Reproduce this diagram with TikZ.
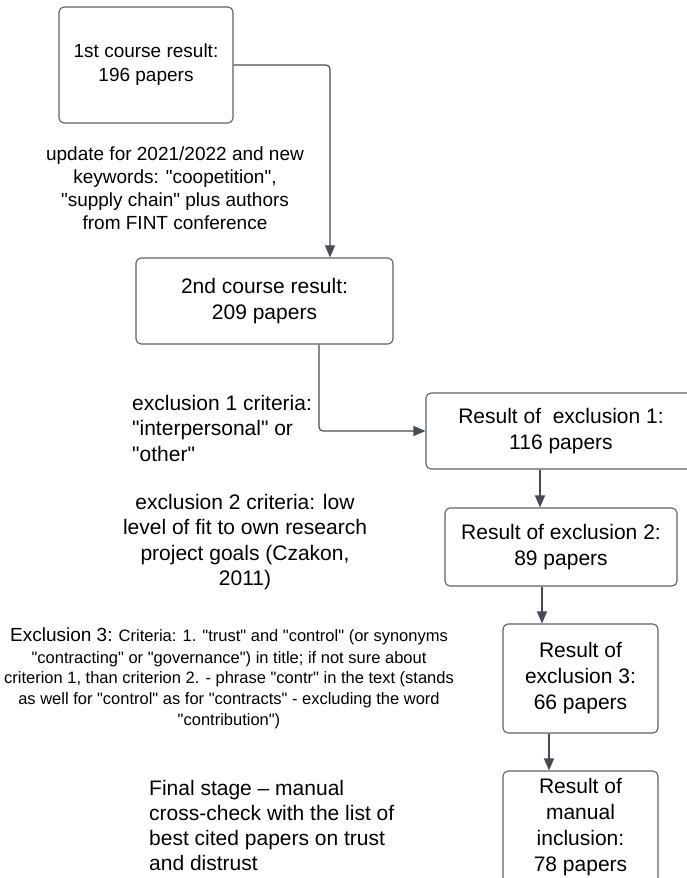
\documentclass[tikz,border=0pt]{standalone}
\usepackage{fontspec}
\setmainfont{Liberation Sans}[Ligatures=TeXReset]
\usetikzlibrary{arrows.meta}
\definecolor{boxgray}{HTML}{5B6068}
\definecolor{flowgray}{HTML}{454B54}

\begin{document}
\begin{tikzpicture}[x=1pt,y=-1pt,
    box/.style={draw=boxgray, line width=1.1pt, rounded corners=5pt, align=center, inner sep=0pt, font=\fontsize{21}{26}\selectfont},
    flow/.style={draw=flowgray, line width=1.2pt, rounded corners=4pt, -{Triangle[length=12pt,width=10pt]}},
    note/.style={inner sep=0pt, font=\fontsize{21}{25.5}\selectfont}]
    \useasboundingbox (0,0) rectangle (686,878);

    % result boxes
    \node[box, minimum width=174pt, minimum height=116pt, font=\fontsize{19}{24}\selectfont] (course1) at (146,65) {1st course result:\\196 papers};
    \node[box, minimum width=257pt, minimum height=86pt] (course2) at (264.5,301) {2nd course result:\\209 papers};
    \node[box, minimum width=270pt, minimum height=76pt] (excl1) at (561,431) {Result of\ \ exclusion 1:\\116 papers};
    \node[box, minimum width=232pt, minimum height=78pt] (excl2) at (561,547) {Result of exclusion 2:\\89 papers};
    \node[box, minimum width=155pt, minimum height=109pt] (excl3) at (580.5,678.5) {Result of\\exclusion 3:\\66 papers};
    \node[box, minimum width=155pt, minimum height=112pt] (manual) at (580.5,827) {Result of\\manual\\inclusion:\\78 papers};

    % criteria texts
    \node[note, align=center, font=\fontsize{19}{23}\selectfont] (update) at (175,188) {update for 2021/2022 and new\\keywords: "coopetition",\\"supply chain" plus authors\\from FINT conference};
    \node[note, align=left, anchor=west] (crit1) at (132,428) {exclusion 1 criteria:\\"interpersonal" or\\"other"};
    \node[note, align=center] (crit2) at (245,542) {exclusion 2 criteria: low\\level of fit to own research\\project goals (Czakon,\\2011)};
    \node[note, align=center, font=\fontsize{16.5}{20.7}\selectfont] (crit3) at (229,678) {{\fontsize{19}{22}\selectfont Exclusion 3:} Criteria: 1. "trust" and "control" (or synonyms\\[1.3pt]"contracting" or "governance") in title; if not sure about\\criterion 1, than criterion 2. - phrase "contr" in the text (stands\\as well for "control" as for "contracts" - excluding the word\\"contribution")};
    \node[note, align=left, anchor=west, font=\fontsize{21}{25}\selectfont] (final) at (149,825) {Final stage – manual\\cross-check with the list of\\best cited papers on trust\\and distrust};

    % connectors
    \draw[flow] (course1.east) -| ([xshift=65.5pt]course2.north);
    \draw[flow] ([xshift=54.5pt]course2.south) |- (excl1.west);
    \draw[flow] ([xshift=-21pt]excl1.south) -- ([xshift=-21pt]excl1.south |- excl2.north);
    \draw[flow] ([xshift=-19pt]excl2.south) -- ([xshift=-19pt]excl2.south |- excl3.north);
    \draw[flow] ([xshift=-31.5pt]excl3.south) -- ([xshift=-31.5pt]excl3.south |- manual.north);
\end{tikzpicture}
\end{document}
